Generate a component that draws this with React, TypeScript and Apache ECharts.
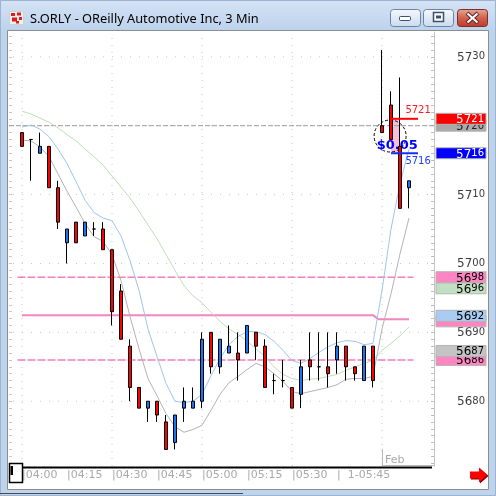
import { useEffect, useRef } from 'react';
import * as echarts from 'echarts';

const windowTitle = 'S.ORLY - OReilly Automotive Inc, 3 Min';

// 3-minute bars
const candleTimes = [
  '04:00', '04:03', '04:06', '04:09', '04:12', '04:15', '04:18', '04:21', '04:24', '04:27',
  '04:30', '04:33', '04:36', '04:39', '04:42', '04:45', '04:48', '04:51', '04:54', '04:57',
  '05:00', '05:03', '05:06', '05:09', '05:12', '05:15', '05:18', '05:21', '05:24', '05:27',
  '05:30', '05:33', '05:36', '05:39', '05:42', '05:45', '05:48', '05:51', '05:54', '05:57',
  '06:00', '06:03', '06:06', '06:09',
];
const openPrices = [
  5719, 5718, 5716, 5717, 5711, 5703, 5706, 5704, 5705, 5705,
  5702, 5696, 5688, 5682, 5679, 5680, 5677, 5674, 5679, 5679,
  5680, 5690, 5685, 5687, 5687, 5687, 5690, 5688, 5683, 5683,
  5682, 5681, 5686, 5685, 5685, 5686, 5688, 5685, 5683, 5688,
  5720, 5723, 5717, 5711,
];
const highPrices = [
  5719, 5718, 5719, 5717, 5712, 5705, 5706, 5706, 5706, 5706,
  5702, 5697, 5689, 5682, 5680, 5680, 5678, 5678, 5682, 5682,
  5690, 5690, 5689, 5691, 5690, 5691, 5690, 5689, 5684, 5686,
  5682, 5686, 5690, 5690, 5690, 5690, 5688, 5685, 5688, 5688,
  5731, 5725, 5727, 5712,
];
const lowPrices = [
  5717, 5712, 5716, 5711, 5705, 5700, 5703, 5704, 5704, 5702,
  5691, 5689, 5680, 5679, 5677, 5677, 5673, 5673, 5677, 5679,
  5679, 5684, 5684, 5687, 5683, 5687, 5686, 5682, 5681, 5682,
  5679, 5679, 5683, 5683, 5682, 5684, 5683, 5683, 5683, 5682,
  5719, 5718, 5708, 5708,
];
const closePrices = [
  5717, 5718, 5717, 5711, 5706, 5705, 5703, 5706, 5705, 5702,
  5693, 5689, 5682, 5679, 5680, 5678, 5673, 5678, 5680, 5680,
  5689, 5685, 5689, 5688, 5686, 5691, 5688, 5682, 5683, 5683,
  5679, 5685, 5685, 5685, 5684, 5688, 5685, 5684, 5688, 5683,
  5719, 5718, 5708, 5712,
];

// moving averages (fast / medium / slow)
const maFast = [
  5717.9, 5717.8, 5716.9, 5715.5, 5713.0, 5710.5, 5708.2, 5705.8, 5703.9, 5703.2,
  5701.3, 5697.5, 5692.3, 5687.6, 5683.3, 5680.8, 5678.2, 5676.3, 5675.5, 5675.9,
  5676.5, 5678.7, 5681.0, 5682.7, 5683.6, 5684.6, 5685.5, 5685.0, 5684.0, 5682.9,
  5681.4, 5681.1, 5681.4, 5681.7, 5682.0, 5682.4, 5683.2, 5683.3, 5683.3, 5683.6,
  5690.5, 5695.6, 5701.4, 5706.6,
];
const maMid = [
  5719.8, 5720.1, 5719.5, 5718.4, 5716.6, 5714.5, 5711.9, 5709.2, 5707.4, 5706.6,
  5706.2, 5704.0, 5700.4, 5696.1, 5690.5, 5686.5, 5682.6, 5680.0, 5679.8, 5680.0,
  5681.0, 5683.7, 5686.2, 5688.2, 5689.4, 5690.1, 5690.1, 5689.7, 5688.7, 5687.4,
  5685.9, 5685.5, 5686.2, 5687.1, 5687.9, 5688.5, 5688.8, 5688.7, 5688.2, 5688.4,
  5696.1, 5705.0, 5711.6, 5716.6,
];
const maSlow = [
  5722.1, 5721.7, 5721.1, 5720.5, 5719.7, 5718.7, 5717.8, 5716.6, 5715.5, 5714.3,
  5712.7, 5711.1, 5709.5, 5707.6, 5705.6, 5703.6, 5701.3, 5699.0, 5696.8, 5695.3,
  5694.3, 5692.9, 5691.6, 5690.5, 5689.7, 5688.7, 5687.6, 5686.5, 5685.0, 5683.9,
  5683.3, 5683.0, 5683.2, 5683.3, 5683.6, 5683.9, 5684.5, 5685.0, 5685.5, 5685.9,
  5687.4, 5688.4, 5689.5, 5690.8,
];

// axis ticks
const axisTickTimes = ['04:00', '04:15', '04:30', '04:45', '05:00', '05:15', '05:30', '05:45'];
const axisTickText = ['04:00', '04:15', '04:30', '04:45', '05:00', '05:15', '05:30', '1-05:45'];
const gridTimes = ['04:00', '04:30', '05:00', '05:30', '06:00'];
const priceGridLines = [5680, 5690, 5700, 5710, 5720, 5730];
// 5720 is marked by its own price tag, so the scale only prints these
const priceLabels = [5680, 5690, 5700, 5710, 5730];
const sessionStart = '06:00';
const sessionLabel = 'Feb';

// reference levels
const greyLevel = 5720;
const pinkDashedLevels = [5698, 5686];
const pinkDashedSpan = [-0.5, 43.5];
const pinkSolidX = [0, 39, 39.6, 43];
const pinkSolidY = [5692.5, 5692.5, 5691.9, 5691.9];

// price tags on the right scale, listed bottom-most first
const tagValues = [5720, 5721, 5716, 5696.4, 5698, 5691.6, 5692.4, 5686, 5687.3];
const tagFill = ['#a9a9a9', '#ff0000', '#0000ff', '#c3dfc3', '#ff85c2', '#ff85c2', '#a8ccf2', '#ff85c2', '#c4c4c4'];
const tagInk = ['#222222', '#ffffff', '#ffffff', '#000000', '#000000', '#000000', '#000000', '#000000', '#000000'];
const tagTextShown = [true, true, true, true, true, false, true, true, true];

// order bracket drawn on the last bars
const bracketTop = 5721;
const bracketBottom = 5716;
const bracketStart = 41;
const bracketEnd = 44;
const bracketShadeEnd = 42;
const bracketTopLabelAt = [42.6, 5722.3];
const bracketBottomLabelAt = [42.6, 5715.0];
const spreadText = '$0.05';
const spreadLabelAt = [41.7, 5717.2];
const markerCircleAt = [40.9, 5718.5];

const XMIN = -13 / 9;
const XMAX = 412 / 9;
const YMIN = 5670.6;
const YMAX = 5733.6;
const FONT = '"DejaVu Sans", sans-serif';

const slotOf = (t: string) => candleTimes.indexOf(t);
const tickSlots = axisTickTimes.map(slotOf);

const unitTicks: number[] = [];
for (let v = Math.ceil(YMIN); v <= Math.floor(YMAX); v++) unitTicks.push(v);

function splitPrice(v: number) {
  const s = String(Math.round(v));
  return `{a|${s.slice(0, 2)}}{b|${s.slice(2)}}`;
}

function flatLine(data: number[][], lineStyle: any, z: number) {
  return {
    type: 'line',
    data,
    symbol: 'none',
    silent: true,
    z,
    lineStyle,
    emphasis: { disabled: true },
  };
}

function buildOption(): any {
  const series: any[] = [];

  priceGridLines.forEach((v) =>
    series.push(flatLine([[XMIN, v], [XMAX, v]], { color: '#c6c6c6', width: 1, type: [1, 8], dashOffset: 5 }, 1)),
  );
  gridTimes.forEach((t) =>
    series.push(flatLine([[slotOf(t), YMIN], [slotOf(t), YMAX]], { color: '#c6c6c6', width: 1, type: [1, 6] }, 1)),
  );

  series.push(flatLine([[XMIN, greyLevel], [XMAX, greyLevel]], { color: '#9c9c9c', width: 1, type: [5, 2] }, 2));
  pinkDashedLevels.forEach((v) =>
    series.push(
      flatLine([[pinkDashedSpan[0], v], [pinkDashedSpan[1], v]], { color: '#f47fbb', width: 1.5, type: [8, 2] }, 2),
    ),
  );
  series.push(flatLine(pinkSolidX.map((x, k) => [x, pinkSolidY[k]]), { color: '#f585be', width: 2 }, 2));

  series.push(flatLine(maSlow.map((v, i) => [i, v]), { color: '#bfdeb6', width: 1 }, 2));
  series.push(flatLine(maMid.map((v, i) => [i, v]), { color: '#9fc5ee', width: 1 }, 2));
  series.push(flatLine(maFast.map((v, i) => [i, v]), { color: '#b3b3b3', width: 1 }, 2));

  // shaded bracket, marker circle and spread text, under the bars
  series.push({
    type: 'custom',
    silent: true,
    z: 2,
    clip: false,
    data: [[bracketStart, bracketTop]],
    renderItem: (_p: any, api: any) => {
      const a = api.coord([bracketStart, bracketTop]);
      const b = api.coord([bracketShadeEnd, bracketBottom]);
      const c = api.coord(markerCircleAt);
      const s = api.coord(spreadLabelAt);
      return {
        type: 'group',
        children: [
          {
            type: 'rect',
            shape: { x: a[0], y: a[1], width: b[0] - a[0], height: b[1] - a[1] },
            style: { fill: '#f6c0dc' },
          },
          {
            type: 'circle',
            shape: { cx: c[0], cy: c[1], r: 16 },
            style: { fill: 'none', stroke: '#000000', lineWidth: 1, lineDash: [3, 2] },
          },
          {
            type: 'text',
            x: s[0],
            y: s[1],
            style: {
              text: spreadText,
              fill: '#0000ff',
              font: `bold 13px ${FONT}`,
              textAlign: 'center',
              textVerticalAlign: 'middle',
            },
          },
        ],
      };
    },
  });

  series.push({
    type: 'candlestick',
    z: 3,
    silent: true,
    barWidth: 4,
    data: candleTimes.map((_, i) => [i, openPrices[i], closePrices[i], lowPrices[i], highPrices[i]]),
    itemStyle: {
      color: '#1577f2',
      color0: '#ff0000',
      borderColor: '#000000',
      borderColor0: '#000000',
      borderColorDoji: '#000000',
      borderWidth: 1,
    },
  });

  series.push(flatLine([[bracketStart, bracketTop], [bracketEnd, bracketTop]], { color: '#ff0000', width: 2 }, 4));
  series.push(flatLine([[bracketStart, bracketBottom], [bracketEnd, bracketBottom]], { color: '#1030ff', width: 2 }, 4));

  // bracket price labels and the session marker
  series.push({
    type: 'custom',
    silent: true,
    z: 4,
    clip: false,
    data: [[bracketStart, bracketTop]],
    renderItem: (_p: any, api: any) => {
      const t = api.coord(bracketTopLabelAt);
      const b = api.coord(bracketBottomLabelAt);
      const s = api.coord([slotOf(sessionStart), YMIN]);
      const r = api.coord([XMAX, YMIN]);
      return {
        type: 'group',
        children: [
          {
            type: 'text',
            x: t[0],
            y: t[1],
            style: { text: String(bracketTop), fill: '#ff1a1a', font: `10px ${FONT}`, textAlign: 'left', textVerticalAlign: 'middle' },
          },
          {
            type: 'text',
            x: b[0],
            y: b[1],
            style: { text: String(bracketBottom), fill: '#1a3cff', font: `10px ${FONT}`, textAlign: 'left', textVerticalAlign: 'middle' },
          },
          {
            type: 'line',
            shape: { x1: s[0] + 0.5, y1: s[1] - 17, x2: s[0] + 0.5, y2: s[1] },
            style: { stroke: '#b8b8b8', lineWidth: 1 },
          },
          {
            type: 'line',
            shape: { x1: s[0], y1: s[1] - 0.5, x2: r[0], y2: s[1] - 0.5 },
            style: { stroke: '#b8b8b8', lineWidth: 1 },
          },
          {
            type: 'text',
            x: s[0] + 3,
            y: s[1] - 7,
            style: { text: sessionLabel, fill: '#a9a9a9', font: `11px ${FONT}`, textAlign: 'left', textVerticalAlign: 'middle' },
          },
        ],
      };
    },
  });

  // price tags on the right scale
  series.push({
    type: 'custom',
    silent: true,
    z: 10,
    clip: false,
    data: tagValues.map((v) => [XMAX, v]),
    renderItem: (p: any, api: any) => {
      const i = p.dataIndex;
      const pt = api.coord([XMAX, tagValues[i]]);
      const children: any[] = [
        {
          type: 'rect',
          shape: { x: pt[0] + 2, y: pt[1] - 5.5, width: 50, height: 11 },
          style: { fill: tagFill[i], stroke: '#b4b4b4', lineWidth: 1 },
        },
      ];
      if (tagTextShown[i]) {
        children.push({
          type: 'text',
          x: pt[0] + 50,
          y: pt[1] + 0.5,
          style: {
            text: splitPrice(tagValues[i]),
            textAlign: 'right',
            textVerticalAlign: 'middle',
            rich: {
              a: { fontSize: 12, fontFamily: FONT, fill: tagInk[i], lineHeight: 12 },
              b: { fontSize: 10, fontFamily: FONT, fill: tagInk[i], lineHeight: 11, verticalAlign: 'top' },
            },
          },
        });
      }
      return { type: 'group', children };
    },
  });

  const yCommon = {
    type: 'value',
    min: YMIN,
    max: YMAX,
    splitLine: { show: false },
  };

  return {
    animation: false,
    textStyle: { fontFamily: FONT },
    grid: { left: 9, right: 62, top: 32, bottom: 30 },
    xAxis: {
      type: 'value',
      min: XMIN,
      max: XMAX,
      axisLine: { show: false, onZero: false },
      axisTick: { show: false },
      splitLine: { show: false },
      axisLabel: {
        customValues: tickSlots,
        margin: 3,
        align: 'left',
        color: '#a9a9a9',
        fontFamily: FONT,
        fontSize: 11,
        formatter: (v: number) => {
          const k = tickSlots.indexOf(Math.round(v));
          if (k < 0) return '';
          const label = axisTickText[k];
          return label.includes('-') ? '|  ' + label : '|' + label;
        },
      },
    },
    yAxis: [
      {
        ...yCommon,
        position: 'right',
        axisLine: { show: true, onZero: false, lineStyle: { color: '#c4c4c4' } },
        axisTick: { show: true, inside: true, length: 3, customValues: unitTicks, lineStyle: { color: '#bdbdbd' } },
        axisLabel: {
          customValues: priceLabels,
          margin: 51,
          align: 'right',
          formatter: (v: number) => splitPrice(v),
          rich: {
            a: { fontSize: 12, fontFamily: FONT, color: '#3c3c3c', lineHeight: 12 },
            b: { fontSize: 10, fontFamily: FONT, color: '#3c3c3c', lineHeight: 11, verticalAlign: 'top' },
          },
        },
      },
      {
        ...yCommon,
        position: 'left',
        axisLine: { show: false, onZero: false },
        axisTick: { show: true, inside: true, length: 3, customValues: unitTicks, lineStyle: { color: '#c8c8c8' } },
        axisLabel: { show: false },
      },
    ],
    series,
    graphic: buildChrome(),
  };
}

// window frame, title bar, scroll bar and navigation arrow
function buildChrome(): any[] {
  const btnFill = new echarts.graphic.LinearGradient(0, 0, 0, 1, [
    { offset: 0, color: '#f5f8fc' },
    { offset: 1, color: '#cbdbee' },
  ]);
  const closeFill = new echarts.graphic.LinearGradient(0, 0, 0, 1, [
    { offset: 0, color: '#e8a496' },
    { offset: 0.5, color: '#d2604f' },
    { offset: 1, color: '#c0392c' },
  ]);
  const ink = '#3d4f6a';
  return [
    { type: 'rect', z: -10, silent: true, shape: { x: 0, y: 0, width: 496, height: 496 }, style: { fill: '#bed4ed' } },
    {
      type: 'rect',
      z: -10,
      silent: true,
      shape: { x: 0, y: 0, width: 496, height: 31 },
      style: {
        fill: new echarts.graphic.LinearGradient(0, 0, 0, 1, [
          { offset: 0, color: '#d5e3f5' },
          { offset: 1, color: '#bcd2ec' },
        ]),
      },
    },
    { type: 'rect', z: -9, silent: true, shape: { x: 0.5, y: 0.5, width: 495, height: 495 }, style: { fill: 'none', stroke: '#9cb3d1', lineWidth: 1 } },
    { type: 'rect', z: -9, silent: true, shape: { x: 7.5, y: 30.5, width: 481, height: 459 }, style: { fill: '#ffffff', stroke: '#8e8e8e', lineWidth: 1 } },
    { type: 'line', z: -9, silent: true, shape: { x1: 0, y1: 493.5, x2: 243, y2: 493.5 }, style: { stroke: '#4a4a4a', lineWidth: 1 } },

    // title bar icon
    { type: 'rect', z: 5, silent: true, shape: { x: 9.5, y: 11.5, width: 14, height: 13 }, style: { fill: '#f0f0f0', stroke: '#d0d0d0', lineWidth: 1 } },
    { type: 'rect', z: 6, silent: true, shape: { x: 11, y: 13, width: 4, height: 3 }, style: { fill: '#e01d1d' } },
    { type: 'rect', z: 6, silent: true, shape: { x: 17, y: 12.5, width: 4, height: 3 }, style: { fill: '#e01d1d' } },
    { type: 'rect', z: 6, silent: true, shape: { x: 12, y: 17.5, width: 5, height: 4 }, style: { fill: '#e01d1d' } },
    { type: 'rect', z: 6, silent: true, shape: { x: 19, y: 17, width: 3, height: 3 }, style: { fill: '#e01d1d' } },
    { type: 'rect', z: 6, silent: true, shape: { x: 16, y: 21, width: 3, height: 2.5 }, style: { fill: '#e01d1d' } },

    {
      type: 'text',
      z: 5,
      silent: true,
      x: 30,
      y: 17.5,
      style: { text: windowTitle, fill: '#000000', font: '12.8px "Noto Sans", sans-serif', textAlign: 'left', textVerticalAlign: 'middle' },
    },

    // minimise / maximise / close
    { type: 'rect', z: 5, silent: true, shape: { x: 390.5, y: 9.5, width: 30, height: 17, r: 3 }, style: { fill: btnFill, stroke: '#6c84a4', lineWidth: 1 } },
    { type: 'rect', z: 6, silent: true, shape: { x: 399.5, y: 16.5, width: 11, height: 4, r: 1 }, style: { fill: '#ffffff', stroke: ink, lineWidth: 1 } },
    { type: 'rect', z: 5, silent: true, shape: { x: 423.5, y: 9.5, width: 30, height: 17, r: 3 }, style: { fill: btnFill, stroke: '#6c84a4', lineWidth: 1 } },
    { type: 'rect', z: 6, silent: true, shape: { x: 433.5, y: 12.5, width: 10, height: 9 }, style: { fill: '#ffffff', stroke: ink, lineWidth: 1.5 } },
    { type: 'rect', z: 6, silent: true, shape: { x: 436, y: 15.5, width: 5, height: 3 }, style: { fill: ink } },
    { type: 'rect', z: 5, silent: true, shape: { x: 457.5, y: 9.5, width: 30, height: 17, r: 3 }, style: { fill: closeFill, stroke: '#7b3027', lineWidth: 1 } },
    { type: 'line', z: 6, silent: true, shape: { x1: 467, y1: 13, x2: 478, y2: 23 }, style: { stroke: '#5a2a24', lineWidth: 4 } },
    { type: 'line', z: 6, silent: true, shape: { x1: 478, y1: 13, x2: 467, y2: 23 }, style: { stroke: '#5a2a24', lineWidth: 4 } },
    { type: 'line', z: 7, silent: true, shape: { x1: 467.5, y1: 13.5, x2: 477.5, y2: 22.5 }, style: { stroke: '#ffffff', lineWidth: 2 } },
    { type: 'line', z: 7, silent: true, shape: { x1: 477.5, y1: 13.5, x2: 467.5, y2: 22.5 }, style: { stroke: '#ffffff', lineWidth: 2 } },

    // scroll bar
    { type: 'rect', z: 20, silent: true, shape: { x: 22, y: 466.5, width: 410, height: 2 }, style: { fill: '#000000' } },
    { type: 'rect', z: 21, silent: true, shape: { x: 9.5, y: 463.5, width: 13, height: 19 }, style: { fill: '#ffffff', stroke: '#000000', lineWidth: 1.5 } },
    { type: 'rect', z: 22, silent: true, shape: { x: 10.5, y: 466, width: 2.5, height: 9 }, style: { fill: '#000000' } },

    // navigation arrow
    {
      type: 'polygon',
      z: 20,
      silent: true,
      shape: { points: [[471, 472.5], [480, 472.5], [480, 468.5], [488.5, 476], [480, 483.5], [480, 479.5], [471, 479.5]] },
      style: { fill: '#7a0000' },
    },
    {
      type: 'polygon',
      z: 21,
      silent: true,
      shape: { points: [[470, 471.5], [479, 471.5], [479, 467.5], [487.5, 475], [479, 482.5], [479, 478.5], [470, 478.5]] },
      style: { fill: '#ff0000' },
    },
  ];
}

export default function App() {
  const ref = useRef<HTMLDivElement>(null);
  useEffect(() => {
    if (!ref.current) return;
    const chart = echarts.init(ref.current, null, { renderer: 'svg' });
    chart.setOption(buildOption());
    return () => chart.dispose();
  }, []);
  return <div ref={ref} style={{ position: 'fixed', left: 0, top: 0, width: 496, height: 496 }} />;
}
